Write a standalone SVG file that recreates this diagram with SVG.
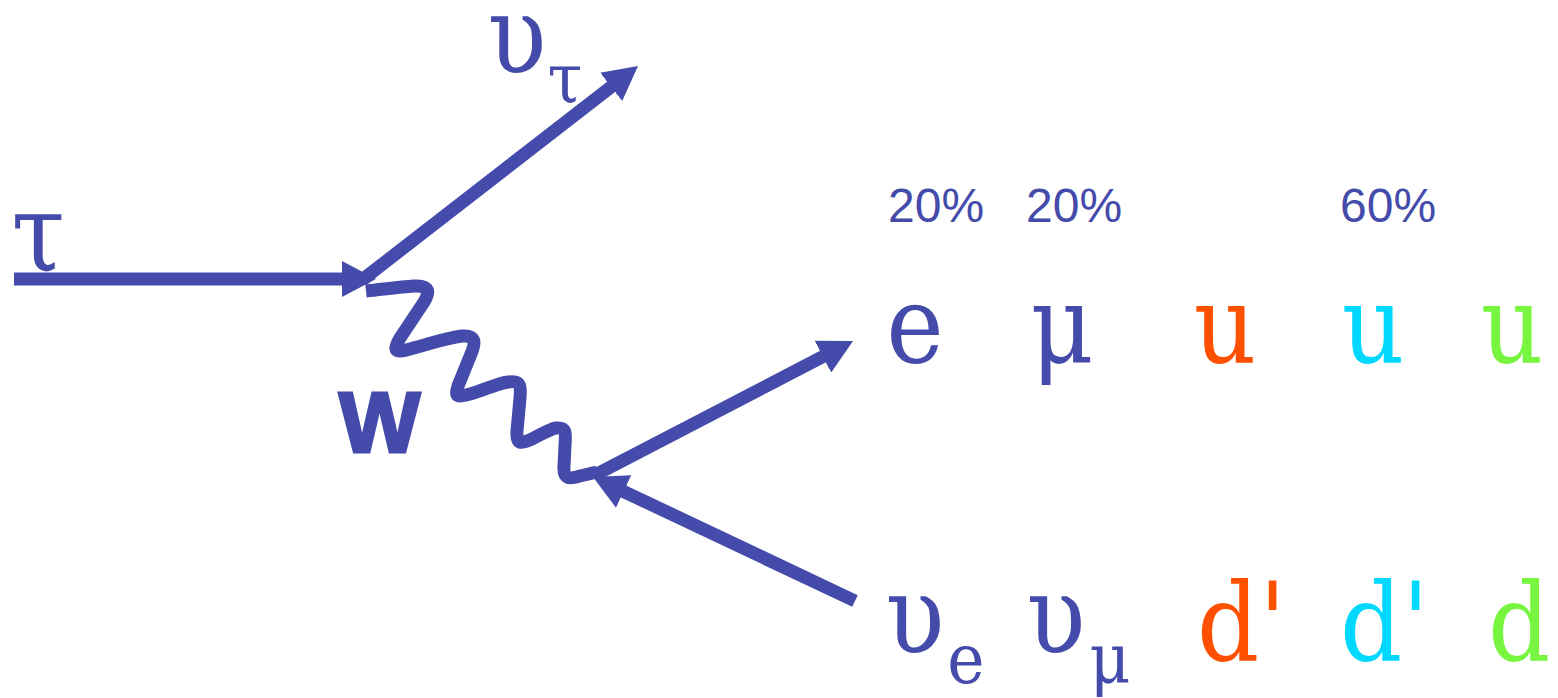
<svg xmlns="http://www.w3.org/2000/svg" width="1558" height="698" viewBox="0 0 1558 698">
<style>
.ln{stroke:#444BAA;stroke-width:13;fill:none}
.wv{stroke:#444BAA;stroke-width:13;fill:none;stroke-linejoin:round;stroke-linecap:butt}
.sf{font-family:"DejaVu Serif Condensed","DejaVu Serif",serif;text-anchor:middle}
.big{font-size:108px}
.sub{font-size:70px}
.b{fill:#444BAA}.o{fill:#FF5000}.c{fill:#00D8FF}.g{fill:#77F53F}
.dp{text-anchor:start}
</style>
<defs>
<marker id="ah" viewBox="0 -18 34 36" markerWidth="34" markerHeight="36" refX="4" refY="0" orient="auto" markerUnits="userSpaceOnUse">
<path d="M0,-18 L34,0 L0,18 Z" fill="#444BAA"/>
</marker>
</defs>
<rect width="1558" height="698" fill="#fff"/>
<g id="connectors">
<line class="ln" x1="14" y1="279" x2="346" y2="279" marker-end="url(#ah)"/>
<line class="ln" x1="362" y1="280" x2="614.3" y2="84.4" marker-end="url(#ah)"/>
<path class="wv" d="M 366 291 C 385 289 400 287 414 286 C 430 285 430 292 424 302 L 400 338 C 392 352 396 353 410 349 C 430 344 445 338 462 336 C 476 335 476 342 471 354 L 458 386 C 454 398 458 397 470 394 C 485 390 495 384 508 382 C 521 380 521 386 520 398 L 517 431 C 516 445 520 444 532 439 C 542 434 550 429 556 428 C 566 427 566 432 565 445 L 564 466 C 563 480 570 479 580 476 L 597 472"/>
<line class="ln" x1="595" y1="475" x2="826.4" y2="354.8" marker-end="url(#ah)"/>
<line class="ln" x1="855" y1="601" x2="620.1" y2="489.8" marker-end="url(#ah)"/>
</g>
<g id="tau"><text class="sf big b" x="38" y="271">τ</text></g>
<g id="nu-tau"><text class="sf big b" x="517" y="73">υ</text><text class="sf sub b" x="565" y="102">τ</text></g>
<g id="row1">
<text class="sf big b" x="915" y="362">e</text>
<text class="sf big b" x="1062" y="362">μ</text>
<text class="sf big o" x="1225" y="362">u</text>
<text class="sf big c" x="1373" y="362">u</text>
<text class="sf big g" x="1512" y="362">u</text>
</g>
<g id="row2">
<text class="sf big b" x="915" y="653">υ</text><text class="sf sub b" x="966" y="683">e</text>
<text class="sf big b" x="1056" y="653">υ</text><text class="sf sub b" x="1110" y="683">μ</text>
<text class="sf dp big o" x="1197" y="660">d'</text>
<text class="sf dp big c" x="1340" y="660">d'</text>
<text class="sf dp big g" x="1488" y="660">d'</text>
</g>
<g id="W"><text x="339" y="452" font-family="Liberation Sans, Arial, sans-serif" font-weight="700" font-size="86" fill="#444BAA" stroke="#444BAA" stroke-width="3">W</text></g>
<g id="pct" font-family="Liberation Sans, Arial, sans-serif" font-size="48" fill="#444BAA">
<text x="888" y="222">20%</text>
<text x="1026" y="222">20%</text>
<text x="1340" y="222">60%</text>
</g>
</svg>
